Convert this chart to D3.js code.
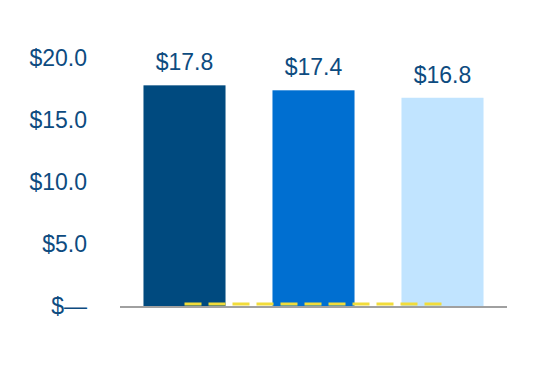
<html>
  <head>
    <meta charset='utf-8'>
    <script src='https://d3js.org/d3.v7.min.js'></script>
    <style>
      body { margin: 0; background: #fff; }
      text { font-family: 'Liberation Sans', Arial, sans-serif; }
    </style>
  </head>
  <body>
    <div id='chart'></div>
    <script>
        // chart data
        const categories = ['A', 'B', 'C'];
        const values = [17.8, 17.4, 16.8];
        const barColors = ['#004a7f', '#006fd1', '#c1e4ff'];
        const lineValues = [0.2, 0.2, 0.2];
        const yTicks = [0, 5, 10, 15, 20];

        const width = 536, height = 384;
        var svg = d3.select('#chart').append('svg')
                    .attr('width', width)
                    .attr('height', height);

        const xScale = d3.scaleBand()
                         .domain(categories)
                         .range([120, 507])
                         .paddingInner(0.364)
                         .paddingOuter(0.182);
        const yScale = d3.scaleLinear()
                         .domain([0, 20])
                         .range([306.5, 58]);

        var fmt = d => d === 0 ? '$\u2014' : '$' + d.toFixed(1);

        // y axis labels only
        var yAxis = d3.axisLeft(yScale)
                      .tickValues(yTicks)
                      .tickFormat(fmt)
                      .tickSize(0)
                      .tickPadding(0);
        var axis_g = svg.append('g')
                        .attr('transform', 'translate(87,0)')
                        .call(yAxis);
        axis_g.select('.domain').remove();
        axis_g.selectAll('text')
              .attr('font-size', 23)
              .attr('fill', '#0d4b80')
              .attr('font-family', "'Liberation Sans', Arial, sans-serif");

        // bars
        svg.append('g').selectAll('rect')
           .data(values)
           .enter().append('rect')
           .attr('x', (d, i) => xScale(categories[i]))
           .attr('y', d => yScale(d))
           .attr('width', xScale.bandwidth())
           .attr('height', d => yScale(0) - yScale(d))
           .attr('fill', (d, i) => barColors[i]);

        // value labels
        svg.append('g').selectAll('text')
           .data(values)
           .enter().append('text')
           .attr('x', (d, i) => xScale(categories[i]) + xScale.bandwidth() / 2)
           .attr('y', d => yScale(d) - 15)
           .attr('text-anchor', 'middle')
           .attr('font-size', 23)
           .attr('fill', '#0d4b80')
           .text(d => '$' + d.toFixed(1));

        // baseline
        svg.append('line')
           .attr('x1', 120).attr('x2', 507)
           .attr('y1', yScale(0) + 0.5).attr('y2', yScale(0) + 0.5)
           .attr('stroke', '#a0a0a0')
           .attr('stroke-width', 2);

        // dashed line series
        var line = d3.line()
                     .x((d, i) => xScale(categories[i]) + xScale.bandwidth() / 2)
                     .y(d => yScale(d));
        svg.append('path')
           .datum(lineValues)
           .attr('d', line)
           .attr('fill', 'none')
           .attr('stroke', '#f2dc3a')
           .attr('stroke-width', 3)
           .attr('stroke-dasharray', '17,7');
    </script>
  </body>
</html>
